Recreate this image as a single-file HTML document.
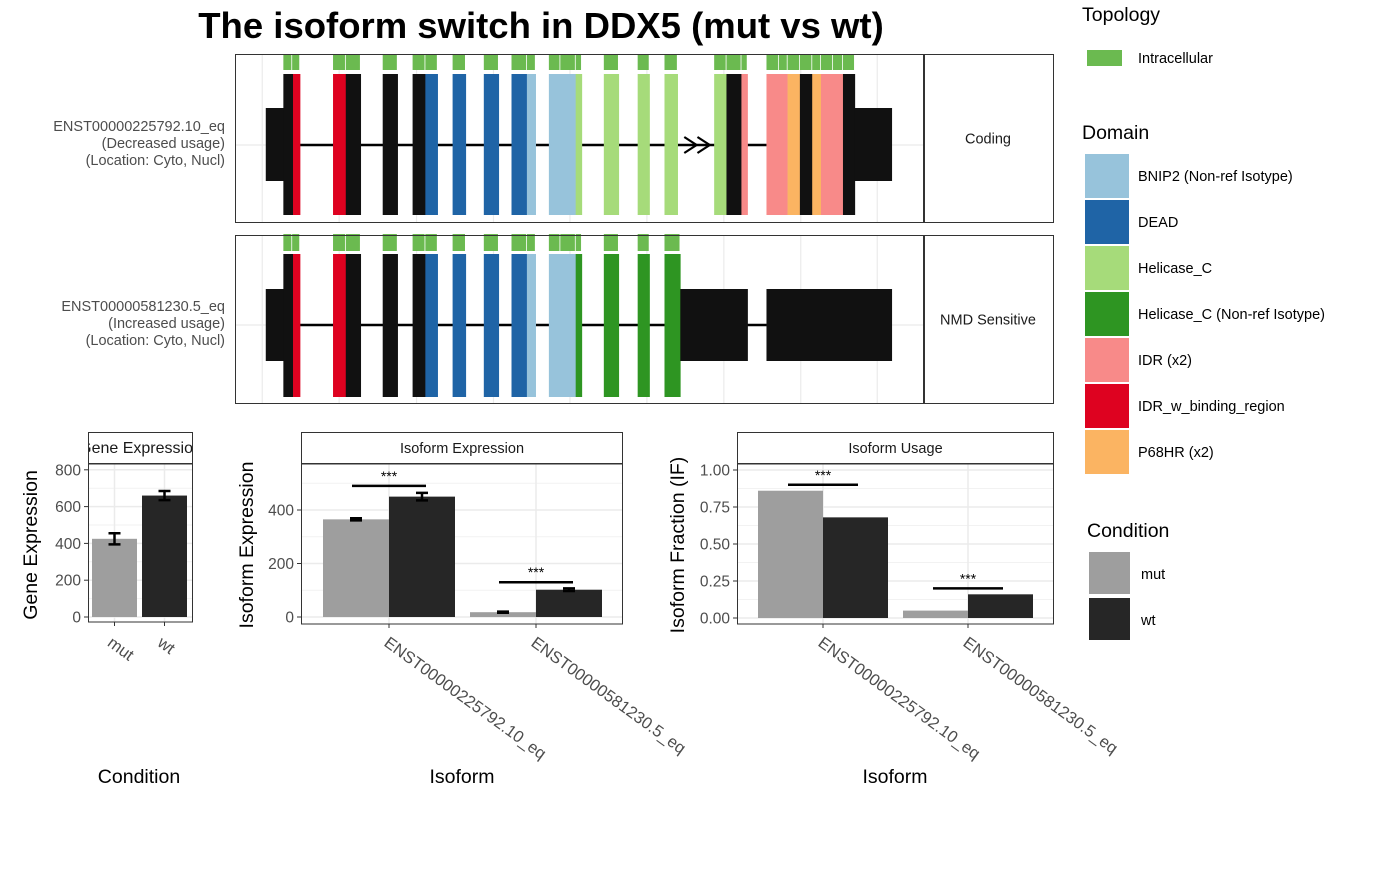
<!DOCTYPE html>
<html><head><meta charset="utf-8"><style>
body{margin:0;background:#fff;font-family:"Liberation Sans",Arial,sans-serif}
svg text{font-family:"Liberation Sans",Arial,sans-serif}
</style></head><body>
<svg id="s" width="1400" height="865" xmlns="http://www.w3.org/2000/svg">
<text x="541" y="38" text-anchor="middle" font-size="36.5" font-weight="bold" fill="#000">The isoform switch in DDX5 (mut vs wt)</text>
</svg>
<script>
// ---------- data ----------
const colorKey={K:'#111111',R:'#DE0220',S:'#F88A89',O:'#FBB462',B:'#1F64A6',LB:'#97C3DB',LG:'#A6DB7A',DG:'#2E9522'};
const tx1Segs=[[70,110,'K','u'],[110,132,'K','f'],[132,148,'R','f'],[223,252,'R','f'],[252,286,'K','f'],[336,370,'K','f'],[404,433,'K','f'],[433,461,'B','f'],[495,525,'B','f'],[566,600,'B','f'],[629,664,'B','f'],[664,684,'LB','f'],[714,775,'LB','f'],[775,789,'LG','f'],[839,873,'LG','f'],[916,943,'LG','f'],[977,1007,'LG','f'],[1090,1118,'LG','f'],[1118,1152,'K','f'],[1152,1166,'S','f'],[1209,1257,'S','f'],[1257,1285,'O','f'],[1285,1313,'K','f'],[1313,1333,'O','f'],[1333,1383,'S','f'],[1383,1410,'K','f'],[1410,1494,'K','u']];
const tx1Topo=[[110,130],[130,148],[223,252],[252,286],[336,370],[404,433],[433,461],[495,525],[566,600],[629,664],[664,684],[714,740],[740,775],[775,789],[839,873],[916,943],[977,1007],[1090,1118],[1118,1152],[1152,1166],[1209,1237],[1237,1257],[1257,1285],[1285,1313],[1313,1333],[1333,1360],[1360,1383],[1383,1410]];
const tx2Segs=[[70,110,'K','u'],[110,132,'K','f'],[132,148,'R','f'],[223,252,'R','f'],[252,286,'K','f'],[336,370,'K','f'],[404,433,'K','f'],[433,461,'B','f'],[495,525,'B','f'],[566,600,'B','f'],[629,664,'B','f'],[664,684,'LB','f'],[714,775,'LB','f'],[775,789,'DG','f'],[839,873,'DG','f'],[916,943,'DG','f'],[977,1013,'DG','f'],[1013,1166,'K','u'],[1209,1494,'K','u']];
const tx2Topo=[[110,130],[130,148],[223,252],[252,286],[336,370],[404,433],[433,461],[495,525],[566,600],[629,664],[664,684],[714,740],[740,775],[775,789],[839,873],[916,943],[977,1013]];
const gridUnits=[62,237,413,588,762,937,1112,1287,1461];

const conditions=['mut','wt'];
const geneMean=[425,660];
const geneErr=[30,25];
const geneTicks=[0,200,400,600,800];

const isoforms=['ENST00000225792.10_eq','ENST00000581230.5_eq'];
const isoExpMut=[365,18];
const isoExpWt=[450,102];
const isoExpErrMut=[4,2];
const isoExpErrWt=[14,5];
const isoExpSig=[490,130];
const isoExpTicks=[0,200,400];

const ifMut=[0.86,0.05];
const ifWt=[0.68,0.16];
const ifSig=[0.9,0.2];
const ifTicks=[0,0.25,0.5,0.75,1.0];

const domainNames=['BNIP2 (Non-ref Isotype)','DEAD','Helicase_C','Helicase_C (Non-ref Isotype)','IDR (x2)','IDR_w_binding_region','P68HR (x2)'];
const domainColors=['#97C3DB','#1F64A6','#A6DB7A','#2E9522','#F88A89','#DE0220','#FBB462'];

// ---------- helpers ----------
const S=document.getElementById('s');const NS='http://www.w3.org/2000/svg';
function el(t,a,txt){const e=document.createElementNS(NS,t);for(const k in a)e.setAttribute(k,a[k]);if(txt!==undefined)e.textContent=txt;S.appendChild(e);return e;}
const gx=u=>235+u*0.4396;

function panel(y0,y1,segs,topo,label,strip,lineY,exT,exB,utT,utB,topT,topB,arrow,lineEnd){
  let p=el('rect',{x:235,y:y0,width:688,height:y1-y0,fill:'#fff'});
  
  gridUnits.forEach(u=>{let g=el('line',{x1:gx(u),x2:gx(u),y1:y0,y2:y1,stroke:'#ebebeb','stroke-width':1.2});
    });
  let h=el('line',{x1:235,x2:923,y1:lineY,y2:lineY,stroke:'#ebebeb','stroke-width':1.2});
  
  let il=el('line',{x1:gx(148),x2:gx(lineEnd),y1:lineY,y2:lineY,stroke:'#000','stroke-width':2.5});
  
  if(arrow){let a=el('path',{d:`M${gx(1022)},${lineY-8} L${gx(1050)},${lineY} L${gx(1022)},${lineY+8} M${gx(1052)},${lineY-8} L${gx(1080)},${lineY} L${gx(1052)},${lineY+8}`,fill:'none',stroke:'#000','stroke-width':2.2});
    }
  segs.forEach(s=>{const full=s[3]==='f';let r=el('rect',{x:gx(s[0]),y:full?exT:utT,width:gx(s[1])-gx(s[0])+0.3,height:full?exB-exT:utB-utT,fill:colorKey[s[2]]});
    });
  topo.forEach(s=>{let r=el('rect',{x:gx(s[0]),y:topT,width:gx(s[1])-gx(s[0])-0.8,height:topB-topT,fill:'#6BBA50'});
    });
  let b=el('rect',{x:235.5,y:y0+.5,width:688,height:y1-y0-1,fill:'none',stroke:'#333','stroke-width':1});
  
  let st=el('rect',{x:924.5,y:y0+.5,width:129,height:y1-y0-1,fill:'#fff',stroke:'#333','stroke-width':1});
  
  let stt=el('text',{x:988,y:(y0+y1)/2+5,'text-anchor':'middle','font-size':14.5,fill:'#1a1a1a'},strip);
  
  label.forEach((l,i)=>{let t=el('text',{x:225,y:lineY-14+i*17,'text-anchor':'end','font-size':14.5,fill:'#4d4d4d'},l);
    });
}
panel(54,223,tx1Segs,tx1Topo,['ENST00000225792.10_eq','(Decreased usage)','(Location: Cyto, Nucl)'],'Coding',145,74,215,108,181,54,70,true,1209);
panel(235,404,tx2Segs,tx2Topo,['ENST00000581230.5_eq','(Increased usage)','(Location: Cyto, Nucl)'],'NMD Sensitive',325,254,397,289,361,234,251,false,1209);

function barChart(o){
  const {x0,x1,yT,yB,strip,stripText,ymap,ticks,fmt,minor,xt,stripSize}=o;
  let bg=el('rect',{x:x0,y:yT,width:x1-x0,height:yB-yT,fill:'#fff'});
  
  minor.forEach(v=>{let g=el('line',{x1:x0,x2:x1,y1:ymap(v),y2:ymap(v),stroke:'#f2f2f2','stroke-width':1});
    });
  ticks.forEach(v=>{let g=el('line',{x1:x0,x2:x1,y1:ymap(v),y2:ymap(v),stroke:'#ebebeb','stroke-width':1.5});
    
    let tk=el('line',{x1:x0-4,x2:x0,y1:ymap(v),y2:ymap(v),stroke:'#333','stroke-width':1});
    
    let t=el('text',{x:x0-7,y:ymap(v)+5.5,'text-anchor':'end','font-size':15.5,fill:'#4d4d4d'},fmt(v));
    });
  xt.forEach(x=>{let g=el('line',{x1:x,x2:x,y1:yT,y2:yB,stroke:'#ebebeb','stroke-width':1.5});
    
    let tk=el('line',{x1:x,x2:x,y1:yB,y2:yB+4,stroke:'#333','stroke-width':1});
    });
  o.draw();
  let b=el('rect',{x:x0+.5,y:yT,width:x1-x0-1,height:yB-yT,fill:'none',stroke:'#333','stroke-width':1});
  
  let sb=el('rect',{x:x0+.5,y:strip+.5,width:x1-x0-1,height:yT-strip-1,fill:'#fff',stroke:'#333','stroke-width':1});
  
  const cid='c'+x0;const cp=el('clipPath',{id:cid});const cr=document.createElementNS(NS,'rect');
  cr.setAttribute('x',x0+1);cr.setAttribute('y',strip);cr.setAttribute('width',x1-x0-2);cr.setAttribute('height',yT-strip);cp.appendChild(cr);
  let st=el('text',{x:(x0+x1)/2,y:(strip+yT)/2+5,'text-anchor':'middle','font-size':stripSize||14.5,fill:'#1a1a1a','clip-path':`url(#${cid})`},stripText);
  
}
function bar(x,w,y0,y1,fill,name){let r=el('rect',{x:x,y:Math.min(y0,y1),width:w,height:Math.abs(y1-y0),fill:fill});
  }
function err(xc,w,ya,yb){let p=el('path',{d:`M${xc-w},${ya}H${xc+w}M${xc},${ya}V${yb}M${xc-w},${yb}H${xc+w}`,stroke:'#000','stroke-width':2.5,fill:'none'});
  }
function sig(xa,xb,y){let l=el('line',{x1:xa,x2:xb,y1:y,y2:y,stroke:'#000','stroke-width':2.5});
  
  let t=el('text',{x:(xa+xb)/2,y:y-5,'text-anchor':'middle','font-size':14,fill:'#000'},'***');
  }
function rotLabel(x,y,s,name){let t=el('text',{x:x,y:y,'font-size':16.5,fill:'#4d4d4d',transform:`rotate(36 ${x} ${y})`},s);
  }
function title(x,y,s,rot,name){let t=el('text',{x:x,y:y,'text-anchor':'middle','font-size':19.5,fill:'#000',transform:rot?`rotate(-90 ${x} ${y})`:''},s);
  }

const gY=v=>617-v*0.184;const gX=[114.5,164.5];
barChart({x0:88,x1:193,yT:464,yB:622,strip:432,stripText:'Gene Expression',stripSize:16,ymap:gY,ticks:geneTicks,fmt:v=>String(v),minor:[100,300,500,700],xt:gX,
 draw:()=>{conditions.forEach((c,i)=>{bar(gX[i]-22.5,45,gY(0),gY(geneMean[i]),i?'#262626':'#9e9e9e','bar-gene-'+c);
   err(gX[i],6,gY(geneMean[i]+geneErr[i]),gY(geneMean[i]-geneErr[i]));});}});
conditions.forEach((c,i)=>rotLabel(gX[i]-8,645,c,'x-tick-label'));
title(37,545,'Gene Expression',true,'y-axis-title');title(139,783,'Condition',false,'x-axis-title');

const eY=v=>617-v*0.2675;const eX=[389,536];
barChart({x0:301,x1:623,yT:464,yB:624,strip:432,stripText:'Isoform Expression',ymap:eY,ticks:isoExpTicks,fmt:v=>String(v),minor:[100,300,500],xt:eX,
 draw:()=>{isoforms.forEach((s,i)=>{bar(eX[i]-66,66,eY(0),eY(isoExpMut[i]),'#9e9e9e','bar-isoexp-mut');
   bar(eX[i],66,eY(0),eY(isoExpWt[i]),'#262626','bar-isoexp-wt');
   err(eX[i]-33,6,eY(isoExpMut[i]+isoExpErrMut[i]),eY(isoExpMut[i]-isoExpErrMut[i]));
   err(eX[i]+33,6,eY(isoExpWt[i]+isoExpErrWt[i]),eY(isoExpWt[i]-isoExpErrWt[i]));
   sig(eX[i]-37,eX[i]+37,eY(isoExpSig[i]));});}});
isoforms.forEach((s,i)=>rotLabel(eX[i]-6,645,s,'x-tick-label'));
title(253,545,'Isoform Expression',true,'y-axis-title');title(462,783,'Isoform',false,'x-axis-title');

const uY=v=>618-v*148;const uX=[823,968];
barChart({x0:737,x1:1054,yT:464,yB:624,strip:432,stripText:'Isoform Usage',ymap:uY,ticks:ifTicks,fmt:v=>v.toFixed(2),minor:[0.125,0.375,0.625,0.875,1.125],xt:uX,
 draw:()=>{isoforms.forEach((s,i)=>{bar(uX[i]-65,65,uY(0),uY(ifMut[i]),'#9e9e9e','bar-if-mut');
   bar(uX[i],65,uY(0),uY(ifWt[i]),'#262626','bar-if-wt');
   sig(uX[i]-35,uX[i]+35,uY(ifSig[i]));});}});
isoforms.forEach((s,i)=>rotLabel(uX[i]-6,645,s,'x-tick-label'));
title(684,545,'Isoform Fraction (IF)',true,'y-axis-title');title(895,783,'Isoform',false,'x-axis-title');

function lt(x,y,s,sz,name){let t=el('text',{x:x,y:y,'font-size':sz,fill:'#000'},s);}
lt(1082,21,'Topology',19.5,'legend-title-topology');
let tg=el('rect',{x:1087,y:50,width:35,height:16,fill:'#6BBA50'});
lt(1138,63,'Intracellular',14.5,'legend-label');
lt(1082,139,'Domain',19.5,'legend-title-domain');
domainNames.forEach((d,i)=>{let r=el('rect',{x:1085,y:154+i*46,width:44,height:44,fill:domainColors[i]});
  
  lt(1138,181+i*46,d,14.5,'legend-label');});
lt(1087,537,'Condition',19.5,'legend-title-condition');
conditions.forEach((c,i)=>{let r=el('rect',{x:1089,y:552+i*46,width:41,height:42,fill:i?'#262626':'#9e9e9e'});
  
  lt(1141,579+i*46,c,14.5,'legend-label');});
</script>
</body></html>
